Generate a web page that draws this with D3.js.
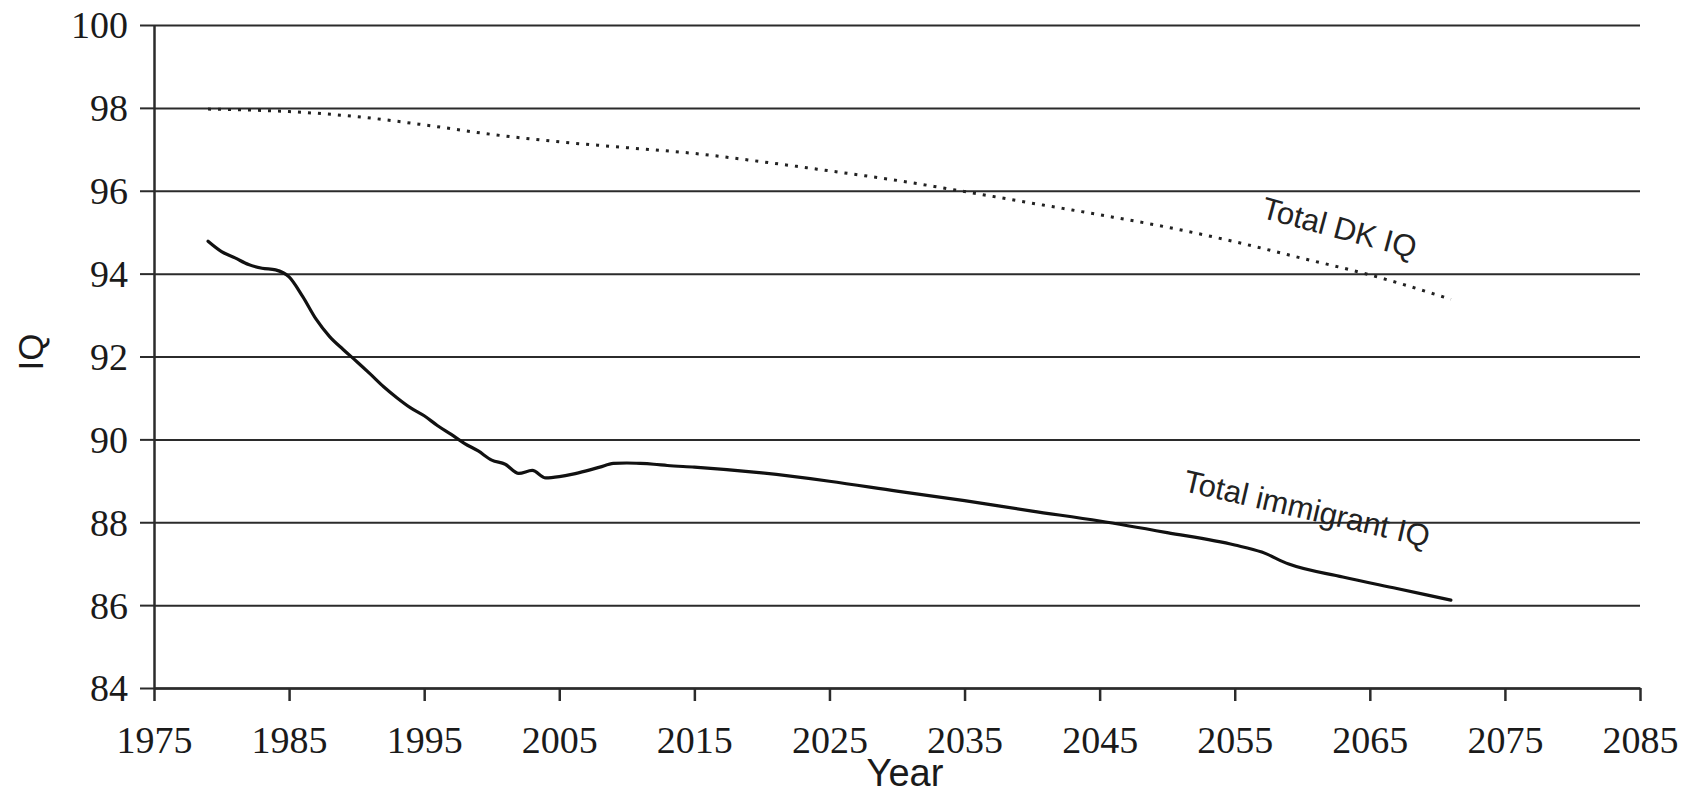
<!DOCTYPE html>
<html>
<head>
<meta charset="utf-8">
<script src="https://cdn.jsdelivr.net/npm/d3@7"></script>
<style>
  html, body { margin: 0; padding: 0; background: #fff; }
  svg { display: block; }
</style>
</head>
<body>
<svg id="chart" width="1681" height="795"></svg>
<script>
// Projected IQ, Denmark: whole population vs. immigrant population
const immigrantYears = [1979, 1980, 1981, 1982, 1983, 1984, 1985, 1986, 1987, 1988, 1989, 1990,
  1991, 1992, 1993, 1994, 1995, 1996, 1997, 1998, 1999, 2000, 2001, 2002, 2003, 2004, 2005,
  2006, 2007, 2008, 2009, 2010, 2011, 2012, 2013, 2015, 2020, 2025, 2030, 2035, 2040, 2045,
  2050, 2055, 2057, 2059, 2063, 2067, 2071];
const immigrantIQ = [94.78, 94.53, 94.38, 94.22, 94.13, 94.09, 93.92, 93.45, 92.90, 92.48, 92.17, 91.88,
  91.58, 91.27, 91.00, 90.76, 90.57, 90.33, 90.12, 89.90, 89.72, 89.50, 89.40, 89.18, 89.25, 89.07, 89.10,
  89.16, 89.24, 89.33, 89.42, 89.43, 89.42, 89.40, 89.37, 89.33, 89.19, 88.99, 88.75, 88.52, 88.27, 88.03,
  87.75, 87.45, 87.28, 86.99, 86.68, 86.40, 86.12];

const dkYears = [1979, 1985, 1990, 1995, 2000, 2005, 2010, 2015, 2020, 2025, 2030, 2035, 2040,
  2045, 2050, 2055, 2060, 2065, 2071];
const dkIQ = [97.97, 97.91, 97.79, 97.59, 97.36, 97.18, 97.04, 96.90, 96.70, 96.48, 96.25, 95.98, 95.70,
  95.42, 95.12, 94.77, 94.37, 93.97, 93.38];

const xTicks = [1975, 1985, 1995, 2005, 2015, 2025, 2035, 2045, 2055, 2065, 2075, 2085];
const yTicks = [84, 86, 88, 90, 92, 94, 96, 98, 100];

const seriesLabels = [
  { text: "Total DK IQ", year: 2062.7, iq: 95.05, angle: 15 },
  { text: "Total immigrant IQ", year: 2060.3, iq: 88.27, angle: 13 }
];

const margin = { left: 154, right: 41, top: 25, bottom: 107 };
const W = 1681, H = 795;
const width = W - margin.left - margin.right;
const height = H - margin.top - margin.bottom;

const svg = d3.select("#chart");
const g = svg.append("g").attr("transform", `translate(${margin.left},${margin.top})`);

const x = d3.scaleLinear().domain([1975, 2085]).range([0, width]);
const y = d3.scaleLinear().domain([84, 100]).range([height, 0]);

const ink = "#2b2b2b";
const serif = "'Liberation Serif', 'Times New Roman', serif";
const sans = "'Liberation Sans', Arial, sans-serif";

// horizontal gridlines
g.append("g")
  .call(d3.axisLeft(y).tickValues(yTicks).tickSize(-width).tickFormat(""))
  .call(s => s.select(".domain").remove())
  .call(s => s.selectAll("line").attr("stroke", ink).attr("stroke-width", 2));

// y axis with ticks and labels
g.append("g")
  .call(d3.axisLeft(y).tickValues(yTicks).tickSize(14).tickSizeOuter(0).tickPadding(12).tickFormat(d3.format("d")))
  .call(s => s.select(".domain").attr("stroke", ink).attr("stroke-width", 2.5))
  .call(s => s.selectAll("line").attr("stroke", ink).attr("stroke-width", 2))
  .call(s => s.selectAll("text")
    .attr("fill", "#1a1a1a").attr("font-family", serif).attr("font-size", 38).attr("dy", "0.34em"));

// x axis
g.append("g")
  .attr("transform", `translate(0,${height})`)
  .call(d3.axisBottom(x).tickValues(xTicks).tickSize(13).tickSizeOuter(0).tickPadding(0).tickFormat(d3.format("d")))
  .call(s => s.select(".domain").attr("stroke", ink).attr("stroke-width", 2.5))
  .call(s => s.selectAll("line").attr("stroke", ink).attr("stroke-width", 2.5))
  .call(s => s.selectAll("text")
    .attr("fill", "#1a1a1a").attr("font-family", serif).attr("font-size", 38)
    .attr("dy", null).attr("y", 65));

// axis titles
svg.append("text")
  .attr("x", 905).attr("y", 786)
  .attr("text-anchor", "middle")
  .attr("font-family", sans).attr("font-size", 38).attr("fill", "#1a1a1a")
  .text("Year");

svg.append("text")
  .attr("transform", "translate(43,352) rotate(-90)")
  .attr("text-anchor", "middle")
  .attr("font-family", sans).attr("font-size", 35).attr("fill", "#1a1a1a")
  .text("IQ");

const line = d3.line()
  .x(d => x(d[0]))
  .y(d => y(d[1]))
  .curve(d3.curveMonotoneX);

// whole-population projection (dotted)
g.append("path")
  .datum(d3.zip(dkYears, dkIQ))
  .attr("d", line)
  .attr("fill", "none")
  .attr("stroke", "#222")
  .attr("stroke-width", 3)
  .attr("stroke-dasharray", "3,7");

// immigrant projection (solid)
g.append("path")
  .datum(d3.zip(immigrantYears, immigrantIQ))
  .attr("d", line)
  .attr("fill", "none")
  .attr("stroke", "#111")
  .attr("stroke-width", 3.2)
  .attr("stroke-linejoin", "round")
  .attr("stroke-linecap", "round");

// in-plot series labels
g.selectAll(".series-label")
  .data(seriesLabels)
  .join("text")
  .attr("class", "series-label")
  .attr("transform", d => `translate(${x(d.year)},${y(d.iq)}) rotate(${d.angle})`)
  .attr("text-anchor", "middle")
  .attr("dominant-baseline", "middle")
  .attr("font-family", sans)
  .attr("font-size", 31)
  .attr("fill", "#222")
  .text(d => d.text);
</script>
</body>
</html>
